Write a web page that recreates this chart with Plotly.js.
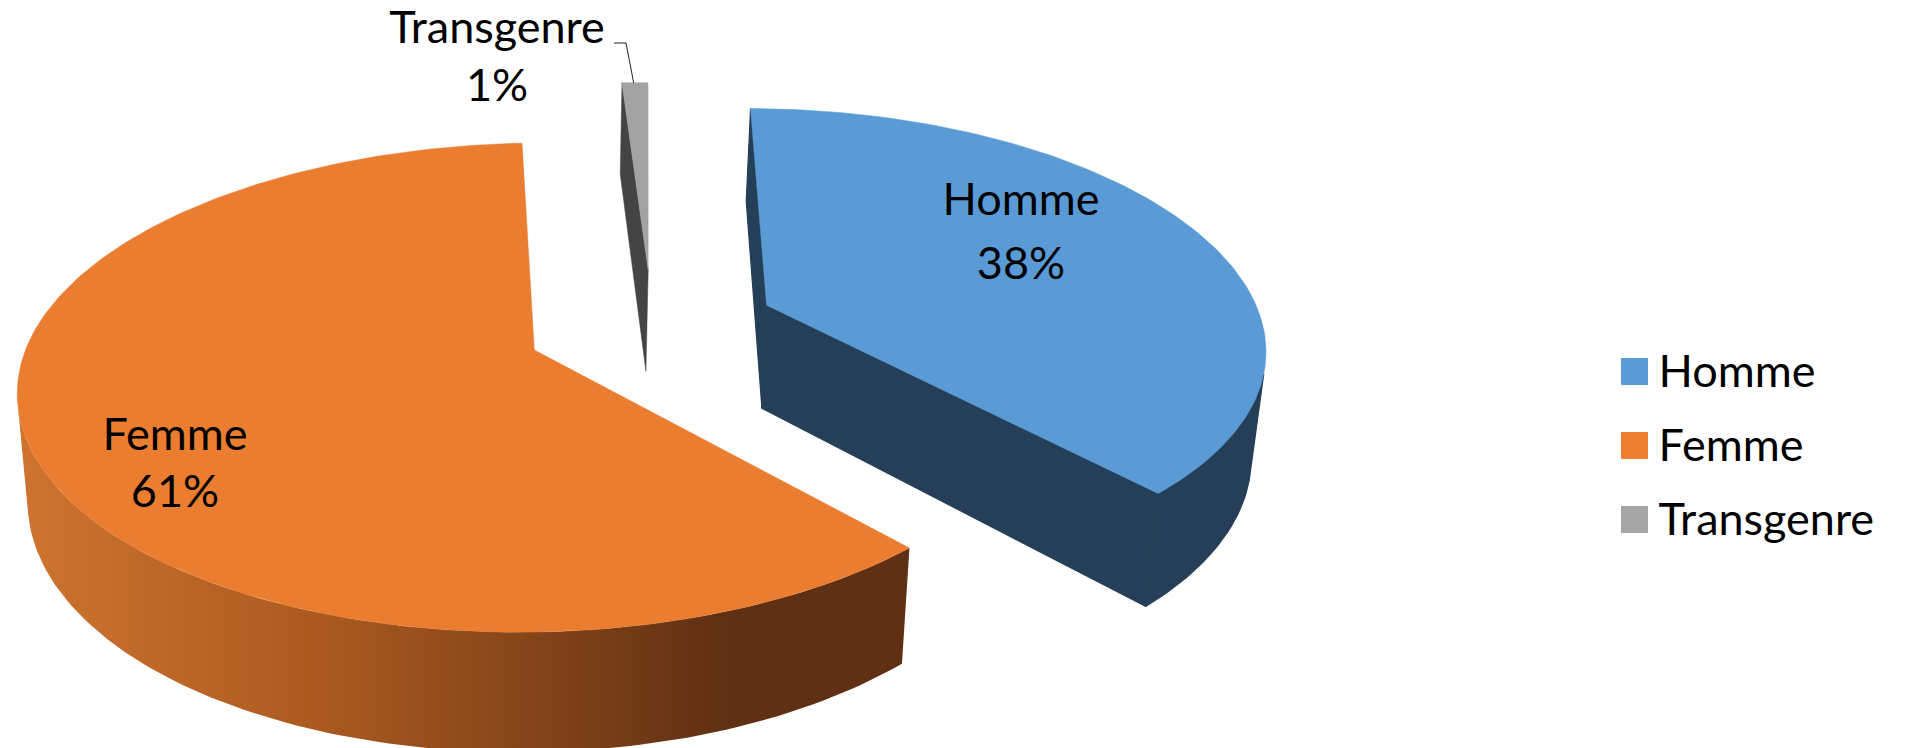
<!DOCTYPE html>
<html><head><meta charset="utf-8">
<script src="https://cdn.plot.ly/plotly-3.0.1.min.js"></script>
<style>html,body{margin:0;padding:0;background:#fff}#c{width:1906px;height:748px}</style>
</head><body><div id="c"></div>
<script>
const categories = ['Homme', 'Femme', 'Transgenre'];
const values = [38, 61, 1];
const topColors = ['#5b9bd5', '#eb7d31', '#a3a3a3'];
const sideColors = ['#243f57', '#5f3013', '#444444'];
const legendColors = ['#5b9bd5', '#ed7d31', '#a5a5a5'];

// view of the pie (perspective of the disc, in axis units)
const startAngle = 2, explode = 0.26, K = 0.1534, A = 500.8, B = 238.8, OX = 534.3, OY = 350;
const sliceSkew = [0, 0.008, 0], sliceScale = [1, 1.012, 1], sliceTilt = [5, 6, 0];
const sliceShiftX = [-5, 0, -1.5], sliceShiftY = [0, 0, 0.5];
const FS = 45;

const rad = d => d * Math.PI / 180;
const total = values.reduce((a, b) => a + b, 0);
function upperPt(u, v, i) {
  const d = 1 + K * v + sliceSkew[i] * u;
  return [OX + sliceShiftX[i] + A * sliceScale[i] * u / d, OY + sliceShiftY[i] - B * v / d - sliceTilt[i] * u];
}
function low(p) { return [OX + (p[0] - OX) * 0.98, p[1] * 1.0525 + 87]; }

const femaleMid = startAngle + 360 * (values[0] + values[1] / 2) / total;
const CU = -explode * Math.sin(rad(femaleMid)), CV = -explode * Math.cos(rad(femaleMid));

let acc = startAngle;
const slices = categories.map((n, i) => {
  const a0 = acc, a1 = acc + 360 * values[i] / total; acc = a1;
  const mid = (a0 + a1) / 2;
  const cu = CU + explode * Math.sin(rad(mid)), cv = CV + explode * Math.cos(rad(mid));
  const rim = t => upperPt(cu + Math.sin(rad(t)), cv + Math.cos(rad(t)), i);
  const arc = (f, t) => { const o = [], n = Math.max(2, Math.ceil(Math.abs(t - f))); for (let j = 0; j <= n; j++) o.push(rim(f + (t - f) * j / n)); return o; };
  return { a0, a1, apex: upperPt(cu, cv, i), rim, arc };
});

function poly(pts, color, extra) {
  const c = pts.concat([pts[0]]);
  return Object.assign({ type: 'scatter', mode: 'lines', x: c.map(p => p[0]), y: c.map(p => p[1]), fill: 'toself', fillcolor: color, line: { width: 0.5, color: color }, hoverinfo: 'skip' }, extra || {});
}
function textTrace(x, y, t, pos, size) {
  return { type: 'scatter', mode: 'text', x: x, y: y, text: t, textposition: pos || 'middle center', textfont: { family: 'Lato, Carlito, sans-serif', size: size || FS, color: '#000' }, hoverinfo: 'skip' };
}

const traces = [];
// Femme: side with gradient then top
{
  const s = slices[1];
  const upper = s.arc(s.a0, 258);
  const side = upper.concat(upper.slice().reverse().map(low));
  traces.push(Object.assign(poly(side, '#5f3013'), { line: { width: 0 }, fillgradient: { type: 'horizontal', colorscale: [[0, '#cf7430'], [0.35, '#a9591f'], [0.8, '#5f3013'], [1, '#5f3013']] } }));
  traces.push(poly([s.apex].concat(s.arc(s.a0, s.a1)), topColors[1]));
}
// Transgenre
{
  const s = slices[2];
  const e = s.rim(s.a0);
  traces.push(poly([e, s.apex, low(s.apex), low(e)], sideColors[2]));
  traces.push(poly([s.apex].concat(s.arc(s.a0, s.a1)), topColors[2]));
}
// Homme
{
  const s = slices[0];
  const start = s.rim(s.a0), end = s.rim(s.a1);
  const upper = s.arc(108, s.a1);
  const thick = { line: { width: 1.2, color: sideColors[0] } };
  traces.push(poly([start, s.apex, low(s.apex), low(start)], sideColors[0], thick));
  traces.push(poly([s.apex, end, low(end), low(s.apex)], sideColors[0], thick));
  traces.push(poly(upper.concat(upper.slice().reverse().map(low)), sideColors[0], thick));
  traces.push(poly([s.apex].concat(s.arc(s.a0, s.a1)), topColors[0]));
}
// leader line for Transgenre
const leaderX = [614, 626, 633.7], leaderY = [43, 43, 83];
traces.push({ type: 'scatter', mode: 'lines', x: leaderX, y: leaderY, line: { color: '#222', width: 1 }, hoverinfo: 'skip' });
// data labels
const labelX = [1021, 175, 497], labelY1 = [204, 439, 32], labelY2 = [268, 496, 90];
traces.push(textTrace(labelX, labelY1, categories));
traces.push(textTrace(labelX, labelY2, values.map(v => v + '%')));
// legend
const legX = [1634.5, 1634.5, 1634.5], legY = [371.5, 445.5, 519.5];
traces.push({ type: 'scatter', mode: 'markers', x: legX, y: legY, marker: { symbol: 'square', size: 27, color: legendColors }, hoverinfo: 'skip' });
traces.push(textTrace(legX.map(x => x + 24), legY.map(y => y + 4), categories, 'middle right'));

Plotly.newPlot('c', traces, {
  width: 1906, height: 748, margin: { l: 0, r: 0, t: 0, b: 0 }, showlegend: false,
  paper_bgcolor: '#fff', plot_bgcolor: '#fff',
  xaxis: { range: [0, 1906], visible: false, fixedrange: true },
  yaxis: { range: [748, 0], visible: false, fixedrange: true }
}, { displayModeBar: false, staticPlot: true });
</script></body></html>
